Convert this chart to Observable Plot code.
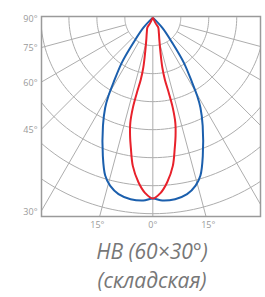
<!DOCTYPE html>
<html><head><meta charset="utf-8">
<script src="https://cdn.jsdelivr.net/npm/d3@7"></script>
<script src="https://cdn.jsdelivr.net/npm/@observablehq/plot@0.6"></script>
<style>
body{margin:0;background:#fff;}
#cap{font-family:"Open Sans",sans-serif;font-style:italic;font-weight:400;font-size:21px;color:#777;line-height:29px;text-align:center;width:226px;padding-left:39px;margin-top:2px;}
</style></head><body>
<div id="chart"></div>
<div id="cap"><div>HB (60×30°)</div><div>(складская)</div></div>
<script>
// Blue curve (60°) half, angle from nadir (deg) -> relative intensity (ring units)
const blueAngle = [0, 3, 7, 11, 14.3, 16.8, 19.9, 24.8, 27.9, 29.6, 31.2, 34.6, 37.8, 43.2, 46];
const blueR     = [6.46, 6.54, 6.53, 6.42, 6.19, 5.89, 5.25, 4.25, 3.64, 3.21, 2.72, 1.95, 1.13, 0.49, 0];
// Red curve (30°) half
const redAngle = [0, 2.5, 5, 7.7, 9.6, 10.9, 12.1, 12.5, 12, 11, 10.8, 12.4, 16.5, 21.8, 28.8, 26.6, 25];
const redR     = [6.46, 6.27, 5.90, 5.34, 4.71, 4.30, 3.84, 3.29, 2.74, 2.25, 1.82, 1.28, 0.82, 0.58, 0.40, 0.24, 0];
// grid
const rings = [1, 2, 3, 4, 5, 6, 7];
const radialAngles = [-75, -60, -45, -30, -15, 0, 15, 30, 45, 60, 75];
const leftTicks = [90, 75, 60, 45, 30];
const bottomTicks = [-15, 0, 15];

const rad = a => a * Math.PI / 180;
const toXY = (a, r) => ({x: r * Math.sin(rad(a)), y: r * Math.cos(rad(a))});
function full(A, R) {
  const right = A.map((a, i) => toXY(a, R[i]));
  const left = A.map((a, i) => toXY(-a, R[i])).reverse();
  return left.concat(right.slice(1));
}
const bluePts = full(blueAngle, blueR);
const redPts = full(redAngle, redR);

const ringPts = [];
for (const r of rings) for (let a = -180; a <= 180; a += 2) ringPts.push({ring: r, ...toXY(a, r)});
const radials = radialAngles.map(a => {
  const p1 = toXY(a, 1), p2 = toXY(a, 14);
  return {x1: p1.x, y1: p1.y, x2: p2.x, y2: p2.y};
});
const XL = -3.98, YB = 7.1;
const leftLabels = leftTicks.map(t => ({x: XL, y: t === 90 ? 0 : Math.min(-XL / Math.tan(rad(t)), 7.0), label: t + "°"}));
const bottomLabels = bottomTicks.map(t => ({x: 7.4 * Math.tan(rad(t)), y: 7.4, label: Math.abs(t) + "°"}));

const plot = Plot.plot({
  width: 265, height: 235,
  marginLeft: 41, marginRight: 5, marginTop: 16, marginBottom: 19,
  x: {domain: [XL, 3.85], axis: null},
  y: {domain: [-0.04, YB], reverse: true, axis: null},
  style: {background: "transparent", fontFamily: "Open Sans", overflow: "visible"},
  marks: [
    Plot.line(ringPts, {x: "x", y: "y", z: "ring", stroke: "#adadad", strokeWidth: 1, clip: true}),
    Plot.link(radials, {x1: "x1", y1: "y1", x2: "x2", y2: "y2", stroke: "#adadad", strokeWidth: 1, clip: true}),
    Plot.line(bluePts, {x: "x", y: "y", stroke: "#1b5fad", strokeWidth: 2, curve: "catmull-rom", clip: true}),
    Plot.line(redPts, {x: "x", y: "y", stroke: "#e8212b", strokeWidth: 2, curve: "catmull-rom", clip: true}),
    Plot.frame({stroke: "#9a9a9a", strokeWidth: 1.5}),
    Plot.text(leftLabels, {x: "x", y: "y", text: "label", textAnchor: "end", dx: -4, dy: 1, fill: "#9a9a9a", fontSize: 9}),
    Plot.text(bottomLabels, {x: "x", y: "y", text: "label", fill: "#9a9a9a", fontSize: 9})
  ]
});
document.getElementById("chart").appendChild(plot);
</script>
</body></html>
